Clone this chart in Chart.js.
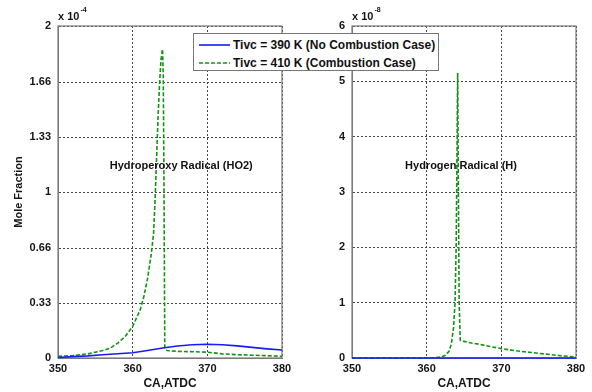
<!DOCTYPE html>
<html>
<head>
<meta charset="utf-8">
<script src="https://cdn.jsdelivr.net/npm/chart.js@4.4.1/dist/chart.umd.min.js"></script>
<style>
  html, body { margin: 0; padding: 0; background: #fff; }
  #wrap { position: relative; width: 592px; height: 392px; overflow: hidden; background: #fff; }
  #wrap canvas { position: absolute; top: 0; }
  #c-left { left: 0; }
  #c-right { left: 296px; }
  .legend {
    position: absolute; left: 193px; top: 33px; width: 244px; height: 36px;
    border: 1px solid #777; background: #fff; z-index: 5;
    font: bold 12px "Liberation Sans", Arial, sans-serif; color: #111;
  }
  .legend__row { position: absolute; left: 5px; height: 14px; display: flex; align-items: center; white-space: nowrap; }
  .legend__row svg { margin-right: 3px; }
</style>
</head>
<body>
<div id="wrap">
  <canvas id="c-left" width="296" height="392"></canvas>
  <canvas id="c-right" width="296" height="392"></canvas>
  <div class="legend" id="legend"></div>
</div>
<script>
// ---- data ----
const seriesLabels = ['Tivc = 390 K (No Combustion Case)', 'Tivc = 410 K (Combustion Case)'];
const xTicks = [350, 360, 370, 380];

// HO2 (units of 1e-4)
const ho2Ticks = [0, 0.33, 0.66, 1, 1.33, 1.66, 2];
const ho2TickLabels = ['0', '0.33', '0.66', '1', '1.33', '1.66', '2'];
const ho2BlueX = [350, 352, 354, 356, 358, 360, 362, 364, 366, 368, 370, 372, 374, 376, 378, 380];
const ho2BlueY = [0.003, 0.008, 0.013, 0.02, 0.026, 0.032, 0.045, 0.06, 0.072, 0.08, 0.083, 0.08, 0.073, 0.064, 0.055, 0.048];
const ho2GreenX = [350, 352, 354, 356, 357, 358, 359, 360, 361, 361.5, 362, 362.5, 362.8, 363, 363.2, 363.4, 363.6, 363.8, 364, 364.1, 364.2, 364.3, 364.6, 366, 368, 370, 372, 374, 376, 378, 380];
const ho2GreenY = [0.01, 0.015, 0.025, 0.045, 0.06, 0.09, 0.13, 0.19, 0.29, 0.37, 0.48, 0.63, 0.75, 0.95, 1.2, 1.45, 1.65, 1.8, 1.86, 1.7, 1.0, 0.06, 0.045, 0.04, 0.038, 0.035, 0.025, 0.02, 0.017, 0.014, 0.01];

// H (units of 1e-8)
const hTicks = [0, 1, 2, 3, 4, 5, 6];
const hTickLabels = ['0', '1', '2', '3', '4', '5', '6'];
const hBlueX = [350, 360, 370, 380];
const hBlueY = [0, 0, 0, 0];
const hGreenX = [350, 360, 361, 362, 362.5, 363, 363.3, 363.6, 363.8, 363.95, 364.05, 364.15, 364.25, 364.35, 364.5, 365, 366, 367, 368, 370, 372, 374, 376, 378, 380];
const hGreenY = [0, 0, 0.005, 0.02, 0.05, 0.12, 0.25, 0.55, 1.0, 2.0, 3.5, 5.15, 3.0, 1.0, 0.32, 0.3, 0.27, 0.25, 0.22, 0.17, 0.13, 0.1, 0.07, 0.04, 0.02];

const BLUE = '#1a1aff';
const GREEN = '#129412';
const GRID = '#444';
const FONT = { family: '"Liberation Sans", Arial, sans-serif', size: 11, weight: 'bold' };
const TITLE_FONT = { family: '"Liberation Sans", Arial, sans-serif', size: 12, weight: 'bold' };
const TXT = '#151515';

function toPoints(xs, ys) {
  return xs.map((x, i) => ({ x, y: ys[i] }));
}

// frame + exponent + in-plot caption
function decorPlugin(exponent, caption, capX, capY) {
  return {
    id: 'decor',
    beforeDatasetsDraw(chart) {
      const { ctx, chartArea: a } = chart;
      ctx.save();
      ctx.strokeStyle = '#7a7a7a';
      ctx.lineWidth = 1.2;
      ctx.strokeRect(a.left, a.top, a.right - a.left, a.bottom - a.top);
      ctx.restore();
    },
    afterDraw(chart) {
      const { ctx, chartArea: a, scales } = chart;
      ctx.save();
      ctx.fillStyle = TXT;
      ctx.textBaseline = 'middle';
      ctx.font = 'bold 11px "Liberation Sans", Arial, sans-serif';
      ctx.fillText('x 10', a.left, a.top - 9);
      const w = ctx.measureText('x 10').width;
      ctx.font = 'bold 7px "Liberation Sans", Arial, sans-serif';
      ctx.fillText(exponent, a.left + w + 1, a.top - 16);
      ctx.font = 'bold 11px "Liberation Sans", Arial, sans-serif';
      ctx.textAlign = 'center';
      ctx.fillStyle = '#111';
      ctx.fillText(caption, scales.x.getPixelForValue(capX), scales.y.getPixelForValue(capY));
      ctx.restore();
    }
  };
}

function makeChart(id, opts) {
  return new Chart(document.getElementById(id), {
    type: 'line',
    data: {
      datasets: [
        { label: seriesLabels[0], data: opts.blue, borderColor: BLUE, borderWidth: 1.6, pointRadius: 0, tension: 0, clip: 3 },
        { label: seriesLabels[1], data: opts.green, borderColor: GREEN, borderWidth: 1.6, borderDash: [4, 2], pointRadius: 0, tension: 0, clip: 3 },
      ]
    },
    options: {
      responsive: false,
      animation: false,
      devicePixelRatio: 1,
      layout: { padding: { top: 26, right: opts.padRight, left: 0, bottom: 0 } },
      plugins: { legend: { display: false }, tooltip: { enabled: false } },
      scales: {
        x: {
          type: 'linear', min: 350, max: 380,
          afterBuildTicks: s => { s.ticks = xTicks.map(v => ({ value: v })); },
          afterFit: s => { s.height = 34; },
          ticks: { font: FONT, color: TXT, padding: 4, maxRotation: 0 },
          grid: { display: true, drawOnChartArea: true, color: GRID, lineWidth: 1, drawTicks: false },
          border: { display: true, color: '#7a7a7a', dash: [2, 2] },
          title: { display: true, text: 'CA,ATDC', font: TITLE_FONT, color: TXT, padding: { top: 0, bottom: 1 } }
        },
        y: {
          type: 'linear', min: 0, max: opts.yMax,
          afterBuildTicks: s => { s.ticks = opts.yTicks.map(v => ({ value: v })); },
          afterFit: s => { s.width = opts.yWidth; },
          ticks: {
            font: FONT, color: TXT, padding: 7,
            callback: v => opts.yLabels[opts.yTicks.indexOf(v)]
          },
          grid: { display: true, drawOnChartArea: true, color: GRID, lineWidth: 1, drawTicks: false },
          border: { display: true, color: '#7a7a7a', dash: [2, 2] },
          title: { display: !!opts.yTitle, text: opts.yTitle || '', font: FONT, color: TXT, padding: { top: 12, bottom: 0 } }
        }
      }
    },
    plugins: [decorPlugin(opts.exponent, opts.caption, opts.capX, opts.capY)]
  });
}

makeChart('c-left', {
  blue: toPoints(ho2BlueX, ho2BlueY),
  green: toPoints(ho2GreenX, ho2GreenY),
  yMax: 2, yTicks: ho2Ticks, yLabels: ho2TickLabels, yWidth: 58, padRight: 14,
  yTitle: 'Mole Fraction', exponent: '-4',
  caption: 'Hydroperoxy Radical (HO2)', capX: 366.5, capY: 1.157
});

makeChart('c-right', {
  blue: toPoints(hBlueX, hBlueY),
  green: toPoints(hGreenX, hGreenY),
  yMax: 6, yTicks: hTicks, yLabels: hTickLabels, yWidth: 56, padRight: 16,
  yTitle: '', exponent: '-8',
  caption: 'Hydrogen Radical (H)', capX: 364.6, capY: 3.47
});

// legend overlay
const legend = document.getElementById('legend');
legend.innerHTML = seriesLabels.map((label, i) => `
  <div class="legend__row" style="top:${i === 0 ? 4 : 22}px">
    <svg width="31" height="6"><line x1="0" y1="3" x2="31" y2="3"
      stroke="${i === 0 ? BLUE : GREEN}" stroke-width="1.6" ${i === 1 ? 'stroke-dasharray="4 2"' : ''}/></svg>
    <span>${label}</span>
  </div>`).join('');
</script>
</body>
</html>
